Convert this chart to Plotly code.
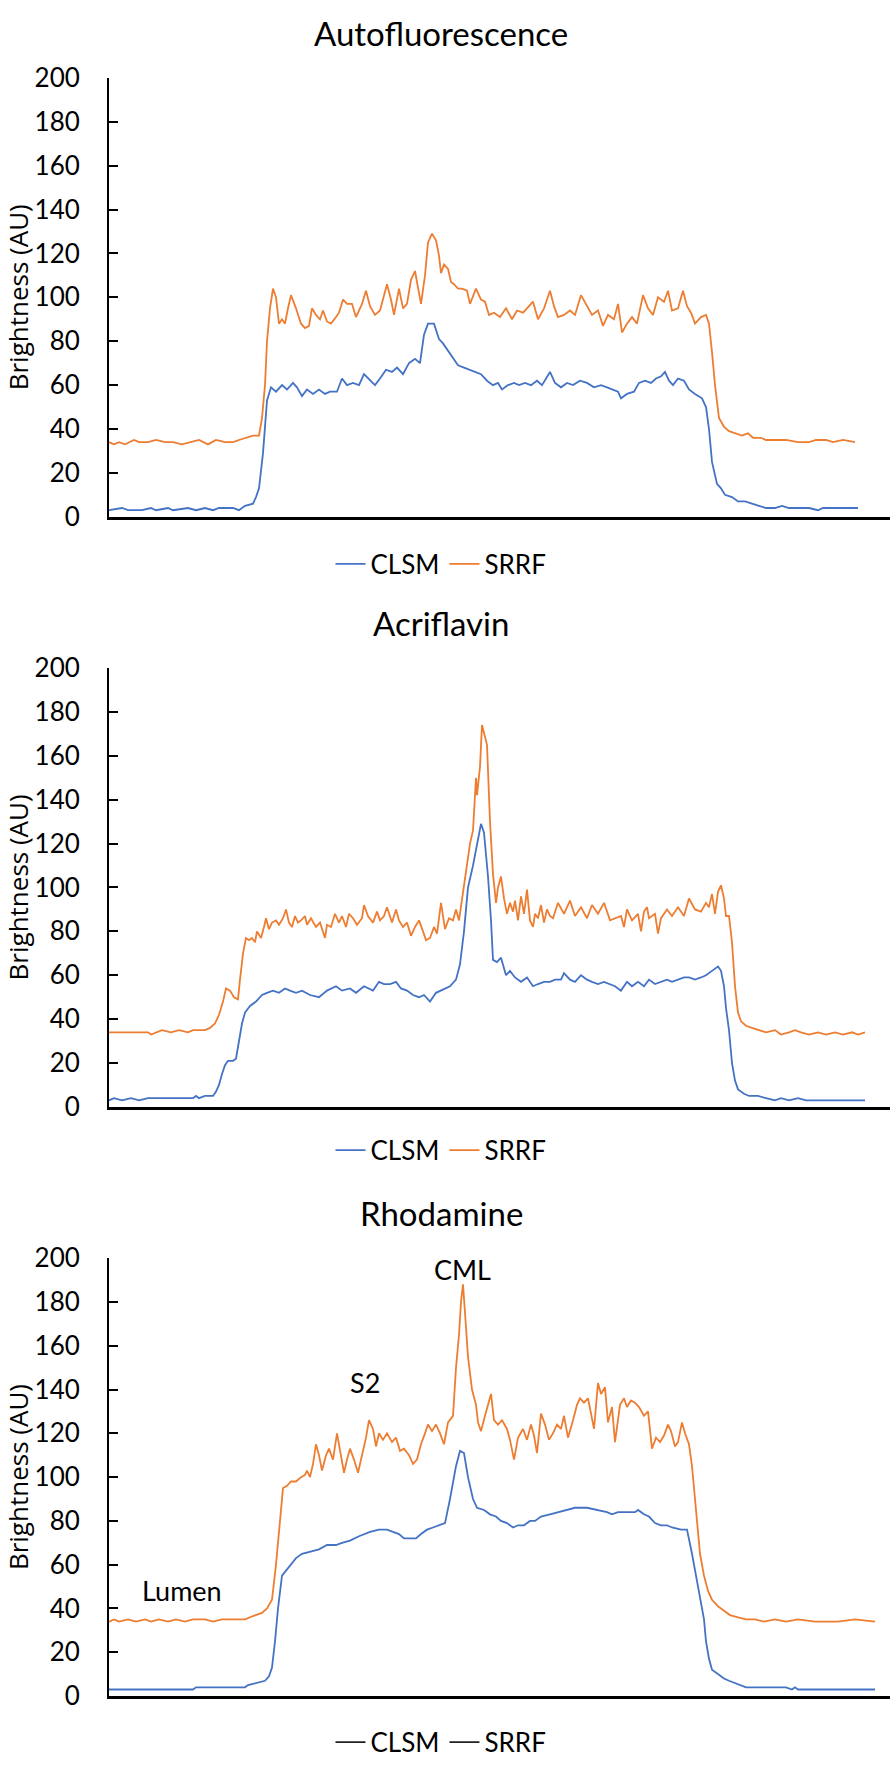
import plotly.graph_objects as go

# ---------------- data ----------------
titles = ["Autofluorescence", "Acriflavin", "Rhodamine"]
series_names = ["CLSM", "SRRF"]
y_ticks = [0, 20, 40, 60, 80, 100, 120, 140, 160, 180, 200]

# Autofluorescence
af_clsm_x = [0,13,19,33,42,47,59,64,79,87,96,104,110,124,130,136,144,147,150,154,
             158,162,167,173,178,184,188,193,198,204,210,216,221,228,233,238,244,250,255,261,
             266,271,277,283,288,294,300,306,311,315,319,325,330,334,340,344,349,355,361,367,
             372,378,384,389,393,399,405,410,416,422,428,433,441,446,452,458,464,471,478,485,
             492,498,503,509,512,518,525,530,536,542,547,552,556,560,564,569,575,580,586,593,
             597,600,603,608,612,616,623,629,636,644,650,657,666,673,680,689,700,709,714,749]
af_clsm = [3,4,3,3,4,3,4,3,4,3,4,3,4,4,3,5,6,9,13,29,
           53,59,57,60,58,61,59,55,58,56,58,56,57,57,63,60,61,60,65,62,
           60,63,67,66,68,65,70,72,70,83,88,88,81,79,75,72,69,68,67,66,
           65,62,60,61,58,60,61,60,61,60,62,60,66,61,59,61,60,62,61,59,
           60,59,58,57,54,56,57,61,62,61,63,64,66,62,60,63,62,58,56,54,
           50,40,25,15,13,10,9,7,7,6,5,4,4,5,4,4,4,3,4,4]
af_srrf_x = [0,5,10,16,25,30,39,47,56,64,73,82,90,99,107,116,124,130,136,144,
             150,153,156,158,161,164,167,170,173,176,179,182,187,192,196,200,203,207,211,214,
             218,222,227,230,234,238,243,247,253,257,261,266,271,278,282,285,290,294,298,302,
             306,310,312,316,319,323,327,330,332,335,339,342,345,349,353,358,361,367,372,376,
             380,385,391,397,403,408,414,420,424,429,435,441,445,449,455,461,466,472,478,483,
             489,494,499,505,509,513,518,523,528,534,539,544,549,555,559,563,569,574,578,582,
             586,592,597,600,603,606,610,615,620,626,633,639,644,652,657,677,689,700,707,717,
             724,734,746]
af_srrf = [34,33,34,33,35,34,34,35,34,34,33,34,35,33,35,34,34,35,36,37,
           37,45,60,80,95,104,100,88,90,88,95,101,95,88,86,87,95,92,90,94,
           89,88,91,93,99,97,97,91,97,103,96,92,94,106,99,92,104,95,97,108,
           112,103,97,110,125,129,126,119,111,115,113,107,106,104,104,103,97,104,99,98,
           92,93,91,95,90,94,93,96,98,90,95,103,96,91,92,94,92,101,96,92,
           94,87,92,90,97,84,88,91,88,101,95,92,100,98,103,94,95,103,96,93,
           88,91,92,88,75,60,45,41,39,38,37,38,36,36,35,35,34,34,35,35,
           34,35,34]

# Acriflavin
ac_clsm_x = [0,5,13,22,30,39,56,84,87,90,96,104,107,110,113,116,119,124,127,130,
             133,136,141,147,153,158,164,170,176,181,187,193,201,210,218,227,233,241,247,255,
             264,270,275,281,287,292,298,304,310,315,321,327,332,341,347,351,355,359,364,368,
             372,375,379,382,384,388,392,397,401,406,412,418,424,429,435,441,446,452,455,461,
             466,472,478,483,489,495,501,506,512,518,523,529,535,540,546,552,558,563,569,575,
             580,586,592,597,603,609,612,615,617,620,623,626,629,635,640,649,657,666,672,680,
             689,697,706,756]
ac_clsm = [3,4,3,4,3,4,4,4,5,4,5,5,7,10,15,19,21,21,22,30,
           38,43,46,48,51,52,53,52,54,53,52,53,51,50,53,55,53,54,52,55,
           53,57,56,56,57,54,53,51,50,51,48,52,53,55,58,65,80,100,110,120,
           129,125,105,85,67,66,68,60,62,59,57,59,55,56,57,57,58,58,61,58,
           57,60,58,57,56,57,56,55,53,57,55,57,55,58,56,57,58,57,58,59,
           59,58,59,60,62,64,62,55,45,35,20,12,8,6,5,5,4,3,4,3,
           4,3,3,3]
ac_srrf_x = [0,16,39,42,47,53,62,70,79,84,90,96,101,106,110,114,117,121,125,129,
             131,134,137,140,143,146,148,152,155,157,160,163,167,170,174,177,180,183,186,189,
             192,196,198,202,207,211,216,218,222,226,230,233,237,240,244,248,253,255,259,264,
             268,271,275,278,283,287,290,294,298,302,306,310,314,317,321,325,328,332,336,340,
             344,347,350,353,357,361,364,367,368,371,373,375,378,381,384,387,389,392,395,398,
             401,404,406,409,412,415,418,421,424,426,429,432,435,438,441,444,449,455,461,466,
             472,478,483,489,495,501,506,512,515,518,523,529,532,535,538,540,546,549,552,558,
             563,569,575,580,586,592,597,600,603,606,609,612,615,617,620,623,626,629,632,637,
             643,649,657,666,672,680,686,692,700,709,717,726,734,743,749,756]
ac_srrf = [34,34,34,33,34,35,34,35,34,35,35,35,36,38,42,48,54,53,50,49,
           58,70,77,76,77,75,80,77,82,86,81,84,85,83,86,90,84,82,87,84,
           85,87,83,86,82,84,77,83,82,88,84,87,82,88,86,83,86,92,87,84,
           89,85,87,91,84,90,85,82,84,78,82,85,80,76,77,82,79,93,81,86,
           85,90,85,95,108,120,126,150,142,155,174,170,165,130,106,93,100,105,95,88,
           93,89,94,85,96,88,99,85,82,88,86,92,84,90,87,86,93,88,94,87,
           91,86,92,88,93,85,86,87,82,90,85,88,80,89,91,86,88,79,86,90,
           87,91,87,95,90,89,93,91,97,88,98,101,95,87,87,75,55,43,39,37,
           36,35,34,35,33,34,35,34,33,34,33,34,33,34,33,34]

# Rhodamine
rh_clsm_x = [0,84,87,136,139,147,156,160,163,166,169,173,178,182,187,193,201,210,218,227,
             233,241,250,261,270,278,284,290,295,301,307,312,318,324,330,336,341,347,351,355,
             359,364,368,375,381,387,392,398,404,409,415,421,426,432,441,449,458,466,478,489,
             498,503,509,518,526,529,535,540,546,552,558,563,572,578,580,583,587,591,595,597,
             600,603,609,615,620,626,632,637,649,677,683,686,689,766]
rh_clsm = [3,3,4,4,5,6,7,9,13,25,40,55,58,60,63,65,66,67,69,69,
           70,71,73,75,76,76,75,74,72,72,72,74,76,77,78,79,90,105,112,111,
           100,90,86,85,83,82,80,79,77,78,78,80,80,82,83,84,85,86,86,85,
           84,83,84,84,84,85,83,82,79,78,78,77,76,76,72,65,55,45,35,25,
           17,12,10,8,7,6,5,4,4,4,3,4,3,3]
rh_srrf_x = [0,5,10,19,27,36,42,50,59,67,76,84,96,104,113,119,136,141,147,153,
             158,163,167,171,174,178,182,187,192,196,198,201,204,207,210,213,217,220,224,228,
             231,235,238,241,245,249,253,257,260,264,267,270,274,278,283,287,291,295,300,304,
             308,312,316,319,323,327,331,335,339,344,347,350,352,354,356,359,363,367,369,372,
             376,380,382,385,389,393,398,401,405,409,414,418,422,425,428,432,436,440,444,448,
             452,455,459,464,468,471,475,479,482,485,489,492,496,499,503,506,511,515,518,522,
             526,530,535,539,543,547,551,555,559,562,566,569,573,576,580,583,587,591,595,599,
             603,609,615,621,629,637,646,655,666,677,689,706,729,746,766]
rh_srrf = [34,35,34,35,34,35,34,35,34,35,34,35,35,34,35,35,35,36,37,38,
           40,44,60,80,95,96,98,98,100,101,103,100,106,115,110,103,110,113,108,120,
           112,102,108,113,108,102,110,118,126,122,114,120,117,120,116,118,112,113,110,106,
           108,115,120,124,121,124,120,115,125,128,150,165,180,188,175,155,140,133,125,121,
           128,135,138,126,124,126,122,117,108,118,122,117,124,119,111,129,124,117,120,124,
           122,128,118,126,133,136,134,136,128,122,143,138,141,125,132,116,133,136,132,135,
           134,132,128,130,113,118,116,119,124,121,114,116,125,120,115,105,85,65,55,48,
           44,41,39,37,36,35,35,34,35,34,35,34,34,35,34]

# Rhodamine region labels (position, brightness)
rh_label_text = ["Lumen", "S2", "CML"]
rh_label_x = [73, 256, 353]
rh_label_y = [48, 143, 195]

# ---------------- styling ----------------
W, H = 894, 1770
BLUE = "#4472C4"
ORANGE = "#ED7D31"
FONT_FAMILY = "Lato, Roboto, sans-serif"
TICK_FONT = dict(family=FONT_FAMILY, size=26, color="black")

x_left, x_right = 109, 890
panels = [  # (px of 200, px of 0, title y, legend y)
    (62, 509, 16, 557),
    (663, 1110, 617, 1154),
    (1264, 1710, 1218, 1757),
]

data_sets = [
    (af_clsm_x, af_clsm, af_srrf_x, af_srrf),
    (ac_clsm_x, ac_clsm, ac_srrf_x, ac_srrf),
    (rh_clsm_x, rh_clsm, rh_srrf_x, rh_srrf),
]

fig = go.Figure()
annotations = []
layout = dict(
    width=W, height=H,
    margin=dict(l=0, r=0, t=0, b=0),
    paper_bgcolor="white", plot_bgcolor="white",
    showlegend=True,
)

def pf(px):
    return 1 - px / H

for i, ((cx, cy, sx, sy), (ytop, ybot, ty, ly)) in enumerate(zip(data_sets, panels)):
    n = "" if i == 0 else str(i + 1)
    xa, ya = "x" + n, "y" + n
    leg = "legend" + n
    last = (i == 2)
    fig.add_trace(go.Scatter(x=cx, y=cy, mode="lines", name=series_names[0],
                             line=dict(color=BLUE, width=1.8), xaxis=xa, yaxis=ya,
                             legend=leg, showlegend=not last))
    fig.add_trace(go.Scatter(x=sx, y=sy, mode="lines", name=series_names[1],
                             line=dict(color=ORANGE, width=1.8), xaxis=xa, yaxis=ya,
                             legend=leg, showlegend=not last))
    if last:
        for nm in series_names:
            fig.add_trace(go.Scatter(x=[None], y=[None], mode="lines", name=nm,
                                     line=dict(color="#222222", width=1.8),
                                     xaxis=xa, yaxis=ya, legend=leg))
    layout["xaxis" + n] = dict(
        domain=[x_left / W, x_right / W], range=[0, x_right - x_left],
        anchor=ya, showline=True, linecolor="black", linewidth=3,
        showticklabels=False, ticks="", showgrid=False, zeroline=False,
    )
    layout["yaxis" + n] = dict(
        domain=[pf(ybot), pf(ytop)], range=[0, 200], anchor=xa,
        tickvals=y_ticks, ticks="inside", ticklen=9, tickwidth=2, tickcolor="black",
        showline=True, linecolor="black", linewidth=2, showgrid=False, zeroline=False,
        tickfont=TICK_FONT, ticklabelstandoff=22,
    )
    layout[leg] = dict(
        orientation="h", x=441 / W, xanchor="center", y=pf(ly), yanchor="middle",
        font=dict(family=FONT_FAMILY, size=26, color="black"),
        bgcolor="rgba(0,0,0,0)", itemwidth=30, tracegroupgap=0,
    )
    annotations.append(dict(
        text=titles[i], xref="paper", yref="paper", x=441 / W, y=pf(ty),
        xanchor="center", yanchor="middle", showarrow=False,
        font=dict(family=FONT_FAMILY, size=33, color="black"),
    ))
    annotations.append(dict(
        text="Brightness (AU)", xref="paper", yref="paper", x=18 / W,
        y=pf((ytop + ybot) / 2), xanchor="center", yanchor="middle",
        textangle=-90, showarrow=False,
        font=dict(family="Open Sans, sans-serif", size=26, color="black"),
    ))

for t, lx, lyv in zip(rh_label_text, rh_label_x, rh_label_y):
    annotations.append(dict(
        text=t, xref="x3", yref="y3", x=lx, y=lyv, xanchor="center",
        yanchor="middle", showarrow=False,
        font=dict(family=FONT_FAMILY, size=27, color="black"),
    ))

layout["annotations"] = annotations
fig.update_layout(**layout)
fig.write_html("out.html", config={"displayModeBar": False},
               post_script="document.body.style.margin='0px';")
